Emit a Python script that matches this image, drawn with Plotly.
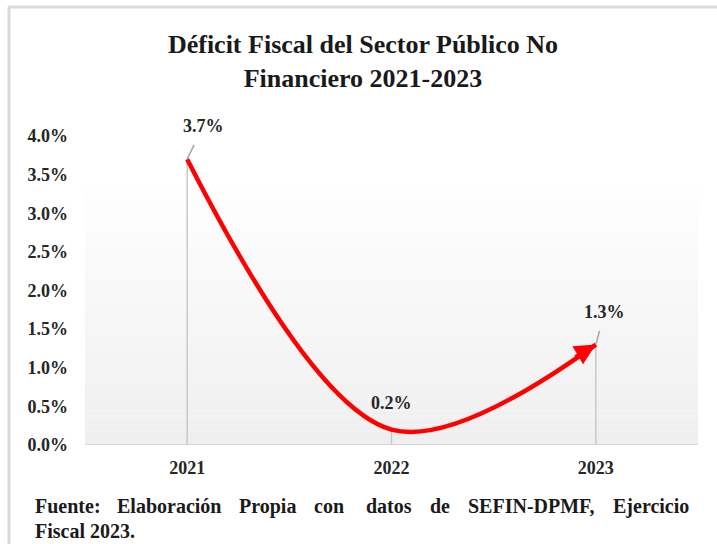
import plotly.graph_objects as go

years = ["2021", "2022", "2023"]
deficit = [3.7, 0.2, 1.3]
label_text = ["3.7%", "0.2%", "1.3%"]
y_ticks = [0, 0.5, 1.0, 1.5, 2.0, 2.5, 3.0, 3.5, 4.0]
y_tick_labels = ["0.0%", "0.5%", "1.0%", "1.5%", "2.0%", "2.5%", "3.0%", "3.5%", "4.0%"]

title_text = "Déficit Fiscal del Sector Público No<br>Financiero 2021-2023"
source_line1 = ["Fuente:", "Elaboración", "Propia", "con", "datos", "de", "SEFIN-DPMF,", "Ejercicio"]
source_line2 = "Fiscal 2023."

SERIF = "Liberation Serif, Times New Roman, serif"

fig = go.Figure()

# drop lines
for yr, v in zip(years, deficit):
    fig.add_trace(go.Scatter(x=[yr, yr], y=[0, v], mode="lines",
                             line=dict(color="#c9c9c9", width=1.5),
                             hoverinfo="skip", showlegend=False))

fig.add_trace(go.Scatter(x=years, y=deficit, mode="lines",
                         line=dict(color="#ff0000", width=4.5, shape="spline", smoothing=1.0),
                         showlegend=False))

# gradient background (plot area) as stacked rectangles
n = 40
top_val = 3.56
for i in range(n):
    y0 = top_val * i / n
    y1 = top_val * (i + 1) / n
    t = i / (n - 1)  # 0 bottom -> 1 top
    g = int(round(239 + (255 - 239) * t))
    fig.add_shape(type="rect", xref="paper", yref="y", x0=0, x1=1, y0=y0, y1=y1,
                  fillcolor=f"rgb({g},{g},{g})", line=dict(width=0), layer="below")

# axis baseline
fig.add_shape(type="line", xref="paper", yref="y", x0=0, x1=1, y0=0, y1=0,
              line=dict(color="#d9d9d9", width=2), layer="below")

LBL_FONT = dict(family=SERIF, size=18, color="#262626", weight="bold")

# data labels (category index positions)
offsets = [(16, -33, True), (0, -27, False), (9, -33, True)]
for i, (v, txt, (ax, ay, arrow)) in enumerate(zip(deficit, label_text, offsets)):
    if arrow:
        fig.add_annotation(x=i, y=v, xref="x", yref="y", text=txt,
                           showarrow=True, arrowhead=0, arrowwidth=1.5, arrowcolor="#a6a6a6",
                           ax=ax, ay=ay, startstandoff=8, font=LBL_FONT)
    else:
        fig.add_annotation(x=i, y=v, xref="x", yref="y", text=txt,
                           showarrow=False, yshift=-ay, font=LBL_FONT)

# arrow head at the end of the line
fig.add_annotation(x=len(years) - 1, y=deficit[-1], xref="x", yref="y", text="",
                   showarrow=True, arrowhead=2, arrowsize=1.2, arrowwidth=3.5,
                   arrowcolor="#ff0000", ax=-22, ay=13)

# source note (justified first line: words spread evenly across the width)
SRC_FONT = dict(family=SERIF, size=20, color="#1a1a1a", weight="bold")
word_px = [33, 115, 237, 312, 364, 428, 466]
def px_to_paper(px):
    return (px - 85) / 613
for w, px in zip(source_line1[:-1], word_px):
    fig.add_annotation(xref="paper", yref="paper", x=px_to_paper(px), y=(445 - 506) / 309,
                       xanchor="left", yanchor="middle", showarrow=False, text=w, font=SRC_FONT)
fig.add_annotation(xref="paper", yref="paper", x=px_to_paper(691), y=(445 - 506) / 309,
                   xanchor="right", yanchor="middle", showarrow=False, text=source_line1[-1],
                   font=SRC_FONT)
fig.add_annotation(xref="paper", yref="paper", x=px_to_paper(33), y=(445 - 531) / 309,
                   xanchor="left", yanchor="middle", showarrow=False, text=source_line2,
                   font=SRC_FONT)

# frame lines
fig.add_shape(type="line", xref="paper", yref="paper", x0=(8 - 85) / 613, x1=(717 - 85) / 613,
              y0=(445 - 7) / 309, y1=(445 - 7) / 309, line=dict(color="#d9d9d9", width=3))
fig.add_shape(type="line", xref="paper", yref="paper", x0=(9 - 85) / 613, x1=(9 - 85) / 613,
              y0=(445 - 7) / 309, y1=(445 - 544) / 309, line=dict(color="#d9d9d9", width=3))

TICK_FONT = dict(family=SERIF, size=18, color="#262626", weight="bold")

fig.update_layout(
    width=717, height=544,
    margin=dict(l=85, r=19, t=136, b=99),
    paper_bgcolor="white", plot_bgcolor="rgba(0,0,0,0)",
    title=dict(text=title_text, x=363 / 717, xref="container", xanchor="center",
               y=1 - 53 / 544, yref="container", yanchor="middle",
               font=dict(family=SERIF, size=26, color="#1a1a1a", weight="bold")),
    xaxis=dict(type="category", range=[-0.5, 2.5], showgrid=False, zeroline=False,
               showline=False, ticks="", ticklabelstandoff=10, tickfont=TICK_FONT),
    yaxis=dict(range=[0, 4.0], tickvals=y_ticks, ticktext=y_tick_labels, showgrid=False,
               zeroline=False, showline=False, ticks="", ticklabelstandoff=16,
               tickfont=TICK_FONT),
    showlegend=False,
)

fig.write_html("out.html")
